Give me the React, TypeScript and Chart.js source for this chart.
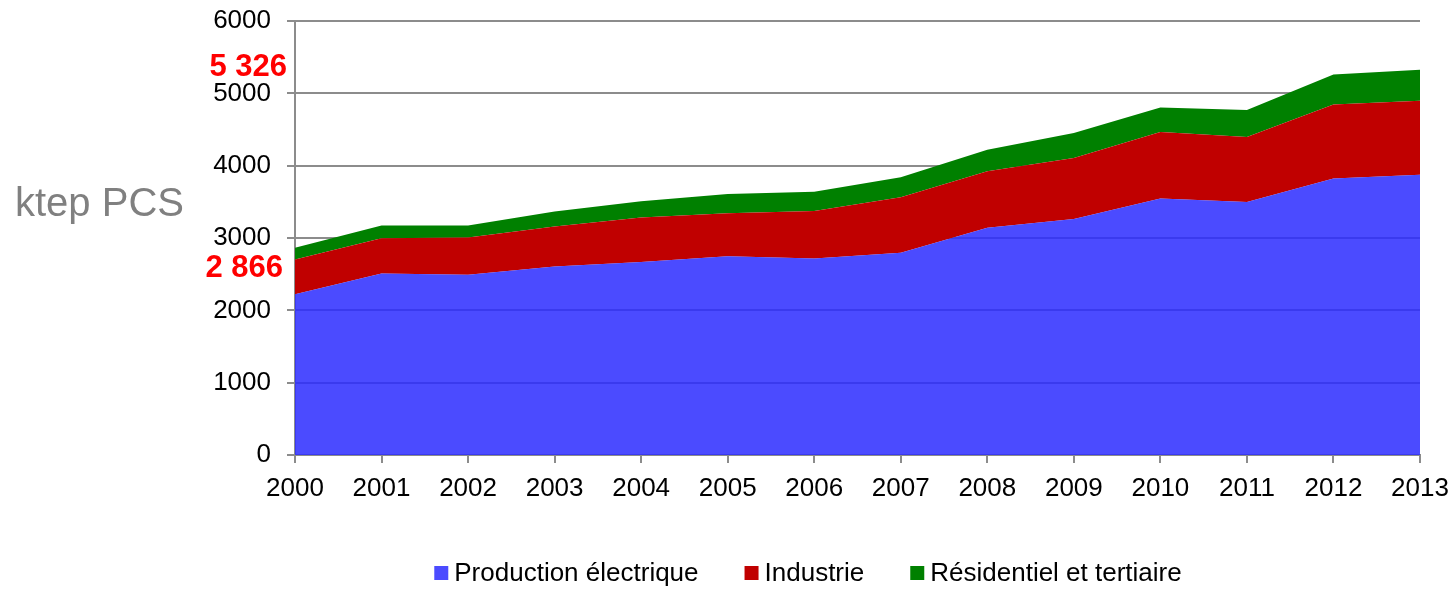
import React, { useEffect, useRef } from "react";
import { Chart, registerables } from "chart.js";

Chart.register(...registerables);

const years = ["2000", "2001", "2002", "2003", "2004", "2005", "2006", "2007", "2008", "2009", "2010", "2011", "2012", "2013"];
const production = [2221, 2510, 2492, 2607, 2667, 2749, 2717, 2796, 3140, 3264, 3545, 3499, 3821, 3876];
const industrie = [482, 488, 515, 552, 616, 594, 658, 767, 782, 841, 920, 896, 1025, 1021];
const residentiel = [163, 174, 165, 207, 225, 266, 266, 276, 299, 345, 340, 373, 414, 429];
const seriesLabels = ["Production électrique", "Industrie", "Résidentiel et tertiaire"];
const unitLabel = "ktep PCS";

const FONT = "'Liberation Sans', Arial, sans-serif";
const GRID = "#8c8c8c";

const totals = years.map((_, i) => production[i] + industrie[i] + residentiel[i]);
const fmt = (v: number) => {
  const s = String(Math.round(v));
  return s.replace(/\B(?=(\d{3})+(?!\d))/g, " ");
};

const annotations = {
  id: "annotations",
  afterDraw(chart: any) {
    const { ctx, chartArea, scales } = chart;
    const y = scales.y;
    ctx.save();

    // unit label on the left
    ctx.fillStyle = "#808080";
    ctx.font = `40px ${FONT}`;
    ctx.textAlign = "left";
    ctx.textBaseline = "middle";
    ctx.fillText(unitLabel, 15, 205);

    // totals of the first and last years
    ctx.fillStyle = "#ff0000";
    ctx.font = `bold 31px ${FONT}`;
    ctx.textAlign = "right";
    const first = totals[0];
    const last = totals[totals.length - 1];
    ctx.fillText(fmt(last), chartArea.left - 8, y.getPixelForValue(last) - 2);
    ctx.fillText(fmt(first), chartArea.left - 12, y.getPixelForValue(first) + 21);

    // legend
    ctx.font = `26px ${FONT}`;
    ctx.textAlign = "left";
    const box = 14;
    const gap = 6;
    const spacing = 46;
    const ds = chart.data.datasets;
    const widths = ds.map((d: any) => box + gap + ctx.measureText(d.label).width);
    const total = widths.reduce((a: number, b: number) => a + b, 0) + spacing * (ds.length - 1);
    let x = 808 - total / 2;
    const cy = 573;
    ds.forEach((d: any, i: number) => {
      ctx.fillStyle = d.legendColor;
      ctx.fillRect(x, cy - box / 2, box, box);
      ctx.fillStyle = "#000";
      ctx.fillText(d.label, x + box + gap, cy + 1);
      x += widths[i] + spacing;
    });

    ctx.restore();
  },
};

export default function App() {
  const ref = useRef<HTMLCanvasElement>(null);

  useEffect(() => {
    document.body.style.margin = "0";
    const chart = new Chart(ref.current!, {
      type: "line",
      data: {
        labels: years,
        datasets: [
          {
            label: seriesLabels[0],
            data: production,
            backgroundColor: "rgba(43,43,255,0.85)",
            legendColor: "#4b4bff",
            fill: "origin",
          } as any,
          {
            label: seriesLabels[1],
            data: industrie,
            backgroundColor: "#c00000",
            legendColor: "#c00000",
            fill: "-1",
          } as any,
          {
            label: seriesLabels[2],
            data: residentiel,
            backgroundColor: "#008000",
            legendColor: "#008000",
            fill: "-1",
          } as any,
        ],
      },
      options: {
        responsive: false,
        animation: false,
        events: [],
        layout: { padding: { top: 21, right: 35, bottom: 89, left: 0 } },
        elements: {
          line: { borderWidth: 0, tension: 0 },
          point: { radius: 0, hoverRadius: 0 },
        },
        plugins: {
          legend: { display: false },
          tooltip: { enabled: false },
        },
        scales: {
          x: {
            offset: false,
            grid: { drawOnChartArea: false, drawTicks: true, tickLength: 8, color: GRID, lineWidth: 2 },
            border: { display: true, color: GRID, width: 2 },
            ticks: { color: "#000", font: { family: FONT, size: 26 }, padding: 10, maxRotation: 0, autoSkip: false },
            afterFit: (s: any) => {
              s.height = 50;
              s.paddingLeft = 0;
              s.paddingRight = 0;
            },
          },
          y: {
            stacked: true,
            min: 0,
            max: 6000,
            grid: { color: GRID, lineWidth: 2, tickLength: 8 },
            border: { display: true, color: GRID, width: 2 },
            ticks: {
              stepSize: 1000,
              color: "#000",
              font: { family: FONT, size: 26 },
              padding: 16,
              callback: (v: any) => String(v),
            },
            afterFit: (s: any) => {
              s.width = 295;
              s.paddingTop = 0;
              s.paddingBottom = 0;
            },
          },
        },
      },
      plugins: [annotations],
    });
    return () => chart.destroy();
  }, []);

  return (
    <div style={{ width: 1455, height: 594 }}>
      <canvas ref={ref} width={1455} height={594} />
    </div>
  );
}
